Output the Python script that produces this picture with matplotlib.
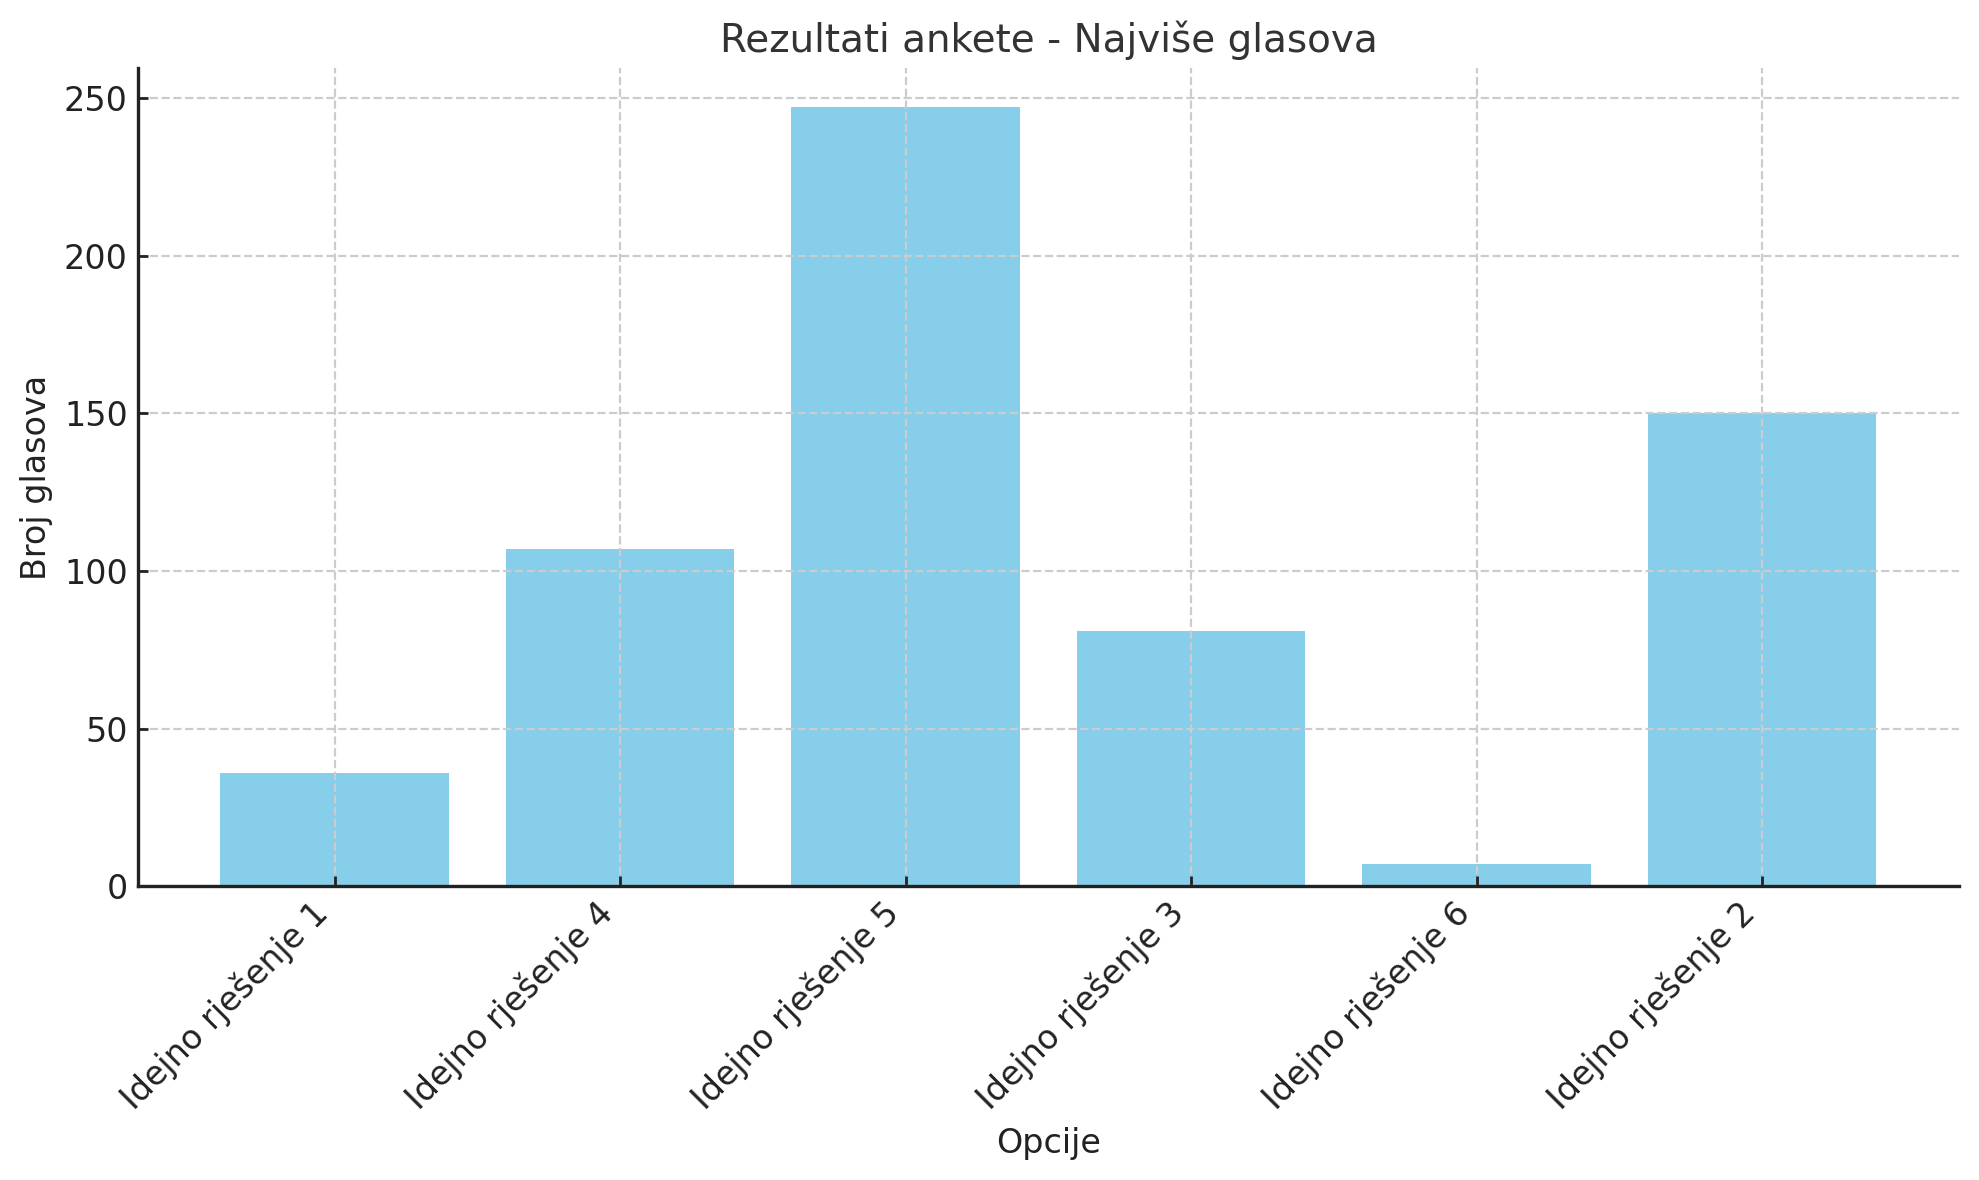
import matplotlib.pyplot as plt

# Poll results
options = ['Idejno rješenje 1', 'Idejno rješenje 4', 'Idejno rješenje 5',
           'Idejno rješenje 3', 'Idejno rješenje 6', 'Idejno rješenje 2']
votes = [36, 107, 247, 81, 7, 150]

plt.rcParams['font.family'] = ['DejaVu Sans']

fig, ax = plt.subplots(figsize=(9.895, 5.9), dpi=200)
fig.subplots_adjust(left=0.0695, right=0.99, top=0.942, bottom=0.249)

ax.bar(options, votes, color='skyblue')

ax.set_title('Rezultati ankete - Najviše glasova', fontsize=14, color='#333333')
ax.set_xlabel('Opcije', fontsize=12, color='#222222')
ax.set_ylabel('Broj glasova', fontsize=12, color='#222222')
ax.tick_params(axis='both', direction='in', labelsize=12, colors='#222222',
               length=3.5, width=1)
plt.setp(ax.get_xticklabels(), rotation=45, ha='right')

# grid sits over the bars but under the spines
ax.grid(True, linestyle='--', color='#cccccc', linewidth=0.8)
ax.set_axisbelow('line')
for side in ['top', 'right']:
    ax.spines[side].set_visible(False)
for side in ['left', 'bottom']:
    ax.spines[side].set_linewidth(1.2)
    ax.spines[side].set_color('#222222')

plt.savefig('out.png')
